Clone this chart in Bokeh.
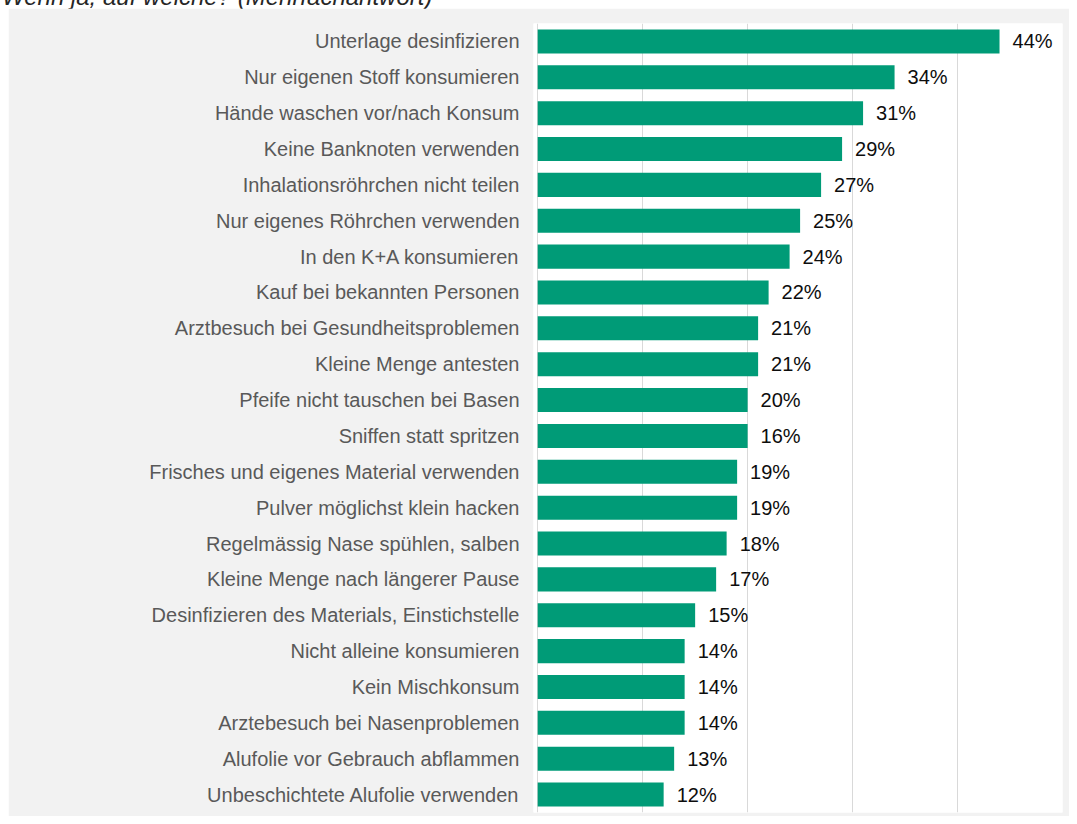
from bokeh.plotting import figure
from bokeh.models import ColumnDataSource, FactorRange, Range1d, FixedTicker, Div
from bokeh.layouts import column
from bokeh.core.properties import value
from bokeh.embed import file_html
from bokeh.resources import INLINE

title_text = "Wenn ja, auf welche? (Mehrfachantwort)"

categories = [
    "Unterlage desinfizieren",
    "Nur eigenen Stoff konsumieren",
    "Hände waschen vor/nach Konsum",
    "Keine Banknoten verwenden",
    "Inhalationsröhrchen nicht teilen",
    "Nur eigenes Röhrchen verwenden",
    "In den K+A konsumieren",
    "Kauf bei bekannten Personen",
    "Arztbesuch bei Gesundheitsproblemen",
    "Kleine Menge antesten",
    "Pfeife nicht tauschen bei Basen",
    "Sniffen statt spritzen",
    "Frisches und eigenes Material verwenden",
    "Pulver möglichst klein hacken",
    "Regelmässig Nase spühlen, salben",
    "Kleine Menge nach längerer Pause",
    "Desinfizieren des Materials, Einstichstelle",
    "Nicht alleine konsumieren",
    "Kein Mischkonsum",
    "Arztebesuch bei Nasenproblemen",
    "Alufolie vor Gebrauch abflammen",
    "Unbeschichtete Alufolie verwenden",
]
values = [44, 34, 31, 29, 27, 25, 24, 22, 21, 21, 20, 20, 19, 19, 18, 17, 15, 14, 14, 14, 13, 12]
value_labels = ["44%", "34%", "31%", "29%", "27%", "25%", "24%", "22%", "21%", "21%", "20%",
                "16%", "19%", "19%", "18%", "17%", "15%", "14%", "14%", "14%", "13%", "12%"]
grid_ticks = [0, 10, 20, 30, 40, 50]

FONT = "Liberation Sans"

src = ColumnDataSource(dict(cat=categories, val=values, lbl=value_labels))

p = figure(
    width=1061, height=808,
    y_range=FactorRange(factors=categories[::-1], range_padding=0),
    x_range=Range1d(-0.4, 50),
    output_backend="svg", toolbar_location=None,
    min_border_left=525, min_border_right=7, min_border_top=15, min_border_bottom=4,
    margin=(0, 0, 0, 8),
)
p.background_fill_color = "white"
p.border_fill_color = "#f2f2f2"
p.outline_line_color = None

p.hbar(y="cat", left=0, right="val", height=0.67, source=src,
       fill_color="#009b77", line_color=None)
p.text(x="val", y="cat", text="lbl", source=src, x_offset=13,
       text_baseline="middle", text_align="left",
       text_font=value(FONT), text_font_size="20px", text_color="#0d0d0d")

p.xaxis.visible = False
p.xaxis.ticker = FixedTicker(ticks=grid_ticks)
p.xgrid.ticker = FixedTicker(ticks=grid_ticks)
p.xgrid.grid_line_color = "#d9d9d9"
p.ygrid.grid_line_color = None

ya = p.yaxis[0]
ya.axis_line_color = None
ya.major_tick_line_color = None
ya.minor_tick_line_color = None
ya.major_tick_out = 0
ya.major_tick_in = 0
ya.minor_tick_out = 0
ya.major_label_standoff = 14
ya.major_label_text_font = FONT
ya.major_label_text_font_size = "20px"
ya.major_label_text_color = "#595959"

title = Div(
    text=f'<span style="font-family:\'{FONT}\';font-style:italic;font-size:24px;'
         f'line-height:23px;color:#262626;white-space:nowrap">{title_text}</span>',
    width=1061, height=23, margin=(-15, 0, 0, 2),
)

layout = column(title, p, spacing=0)

open("out.html", "w").write(file_html(layout, INLINE))
